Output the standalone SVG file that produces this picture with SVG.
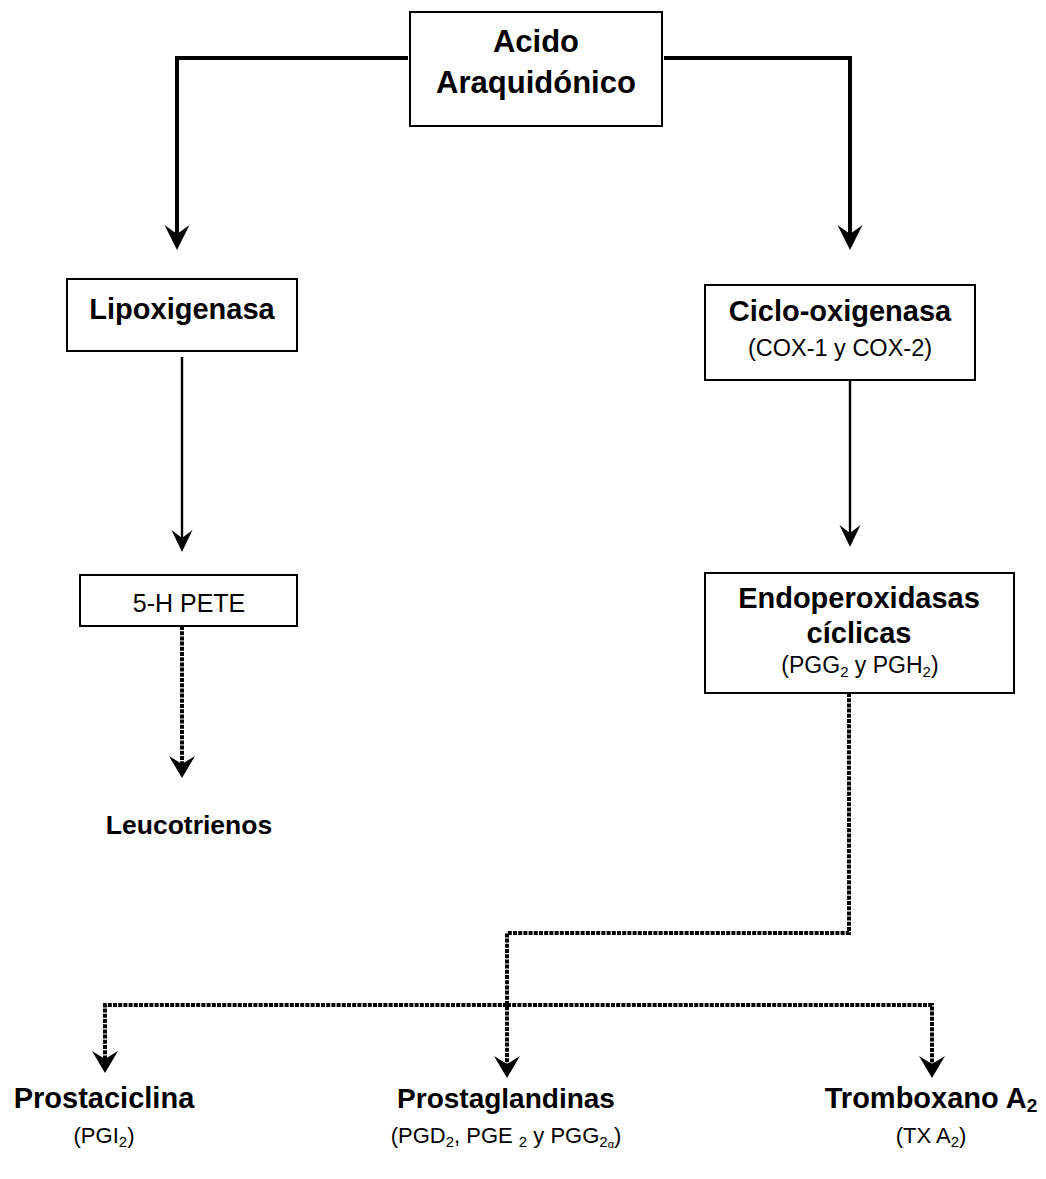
<svg xmlns="http://www.w3.org/2000/svg" width="1046" height="1179" viewBox="0 0 1046 1179">
<style>
.box{fill:#fff;stroke:#000;stroke-width:2}
.b{font-family:"Liberation Sans",Arial,sans-serif;font-weight:bold;fill:#000;text-anchor:middle}
.r{font-family:"Liberation Sans",Arial,sans-serif;fill:#000;text-anchor:middle}
.thick{fill:none;stroke:#000;stroke-width:4}
.thin{fill:none;stroke:#000;stroke-width:2.4}
.dash{fill:none;stroke:#000;stroke-width:4;stroke-dasharray:4 1.2}
</style>
<defs>
<marker id="aBig" markerUnits="userSpaceOnUse" orient="auto" refX="9" refY="0" markerWidth="30" markerHeight="30" overflow="visible"><path d="M0,-12.5 L25,0 L0,12.5 L9,0 Z" fill="#000"/></marker>
<marker id="aMed" markerUnits="userSpaceOnUse" orient="auto" refX="8" refY="0" markerWidth="30" markerHeight="30" overflow="visible"><path d="M0,-10.5 L22,0 L0,10.5 L8,0 Z" fill="#000"/></marker>
<marker id="aDash" markerUnits="userSpaceOnUse" orient="auto" refX="8" refY="0" markerWidth="30" markerHeight="30" overflow="visible"><path d="M0,-13 L22,0 L0,13 L8,0 Z" fill="#000"/></marker>
</defs>
<g id="connectors">
<path class="thick" d="M408,58 H177 V234" marker-end="url(#aBig)"/>
<path class="thick" d="M664,58 H850 V234" marker-end="url(#aBig)"/>
<path class="thin" d="M182,357 V538" marker-end="url(#aMed)"/>
<path class="thin" d="M850,380 V533" marker-end="url(#aMed)"/>
<path class="dash" d="M182,626 V764" marker-end="url(#aDash)"/>
<path class="dash" d="M849,693 V933 H507 V1064" marker-end="url(#aDash)"/>
<path class="dash" d="M507,1005 H105 V1059" marker-end="url(#aDash)"/>
<path class="dash" d="M507,1005 H932 V1064" marker-end="url(#aDash)"/>
</g>
<g id="acido">
<rect class="box" x="410" y="12" width="252" height="114"/>
<text class="b" x="536" y="52" font-size="31">Acido</text>
<text class="b" x="536" y="93" font-size="31">Araquidónico</text>
</g>
<g id="lipoxigenasa">
<rect class="box" x="67" y="279" width="230" height="72"/>
<text class="b" x="182" y="319" font-size="29">Lipoxigenasa</text>
</g>
<g id="ciclooxigenasa">
<rect class="box" x="705" y="285" width="270" height="95"/>
<text class="b" x="840" y="321" font-size="29">Ciclo-oxigenasa</text>
<text class="r" x="840" y="356" font-size="23.5">(COX-1 y COX-2)</text>
</g>
<g id="hpete">
<rect class="box" x="80" y="575" width="217" height="51"/>
<text class="r" x="189" y="612" font-size="25">5-H PETE</text>
</g>
<g id="leucotrienos">
<text class="b" x="189" y="834" font-size="26.5">Leucotrienos</text>
</g>
<g id="endoperoxidasas">
<rect class="box" x="705" y="573" width="309" height="120"/>
<text class="b" x="859" y="608" font-size="29">Endoperoxidasas</text>
<text class="b" x="859" y="643" font-size="29">cíclicas</text>
<text class="r" x="860" y="673" font-size="23">(PGG<tspan font-size="15" dy="4">2</tspan><tspan dy="-4"> y PGH</tspan><tspan font-size="15" dy="4">2</tspan><tspan dy="-4">)</tspan></text>
</g>
<g id="prostaciclina">
<text class="b" x="104" y="1108" font-size="29">Prostaciclina</text>
<text class="r" x="104" y="1143" font-size="22">(PGI<tspan font-size="15" dy="4">2</tspan><tspan dy="-4">)</tspan></text>
</g>
<g id="prostaglandinas">
<text class="b" x="506" y="1108" font-size="28">Prostaglandinas</text>
<text class="r" x="506" y="1143" font-size="22">(PGD<tspan font-size="15" dy="4">2</tspan><tspan dy="-4">, PGE </tspan><tspan font-size="15" dy="4">2</tspan><tspan dy="-4"> y PGG</tspan><tspan font-size="15" dy="4">2</tspan><tspan font-size="11" dy="1">α</tspan><tspan dy="-5">)</tspan></text>
</g>
<g id="tromboxano">
<text class="b" x="931" y="1108" font-size="29">Tromboxano A<tspan font-size="19" dy="4">2</tspan></text>
<text class="r" x="931" y="1143" font-size="22">(TX A<tspan font-size="15" dy="4">2</tspan><tspan dy="-4">)</tspan></text>
</g>
</svg>
